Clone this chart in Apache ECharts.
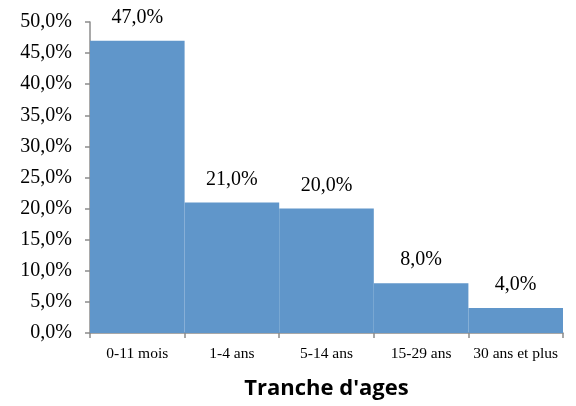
<!DOCTYPE html>
<html><head><meta charset="utf-8">
<script src="https://cdn.jsdelivr.net/npm/echarts@6/dist/echarts.min.js"></script>
<style>html,body{margin:0;padding:0;background:#fff}#c{width:576px;height:406px}</style>
</head><body><div id="c"></div>
<script>
const categories = ['0-11 mois','1-4 ans','5-14 ans','15-29 ans','30 ans et plus'];
const values = [47.0, 21.0, 20.0, 8.0, 4.0];
const axisTitle = "Tranche d'ages";
const fmt = v => v.toFixed(1).replace('.', ',') + '%';
const chart = echarts.init(document.getElementById('c'), null, {renderer:'canvas'});
chart.setOption({
  animation:false,
  grid:{left:90,right:13,top:22,bottom:73,containLabel:false},
  xAxis:{type:'category',data:categories,
    axisLine:{lineStyle:{color:'#8c8c8c',width:1.5}},
    axisTick:{show:true,length:5,lineStyle:{color:'#8c8c8c',width:1.5}},
    axisLabel:{color:'#000',fontFamily:'Liberation Serif',fontSize:15.5,margin:13,interval:0},
    name:axisTitle,nameLocation:'middle',nameGap:45,
    nameTextStyle:{fontFamily:'Open Sans',fontWeight:'bold',fontSize:22,color:'#000'}
  },
  yAxis:{type:'value',min:0,max:50,interval:5,
    axisLine:{show:true,lineStyle:{color:'#8c8c8c',width:1.5}},
    axisTick:{show:true,length:5,lineStyle:{color:'#8c8c8c',width:1.5}},
    splitLine:{show:false},
    axisLabel:{color:'#000',fontFamily:'Liberation Serif',fontSize:20,margin:18,formatter:v=>fmt(v)}
  },
  series:[{type:'bar',data:values,barCategoryGap:'0%',
    itemStyle:{color:'#6096CA'},
    label:{show:true,position:'top',distance:13,color:'#000',fontFamily:'Liberation Serif',fontSize:20,formatter:p=>fmt(p.value)}
  }]
});
</script></body></html>
